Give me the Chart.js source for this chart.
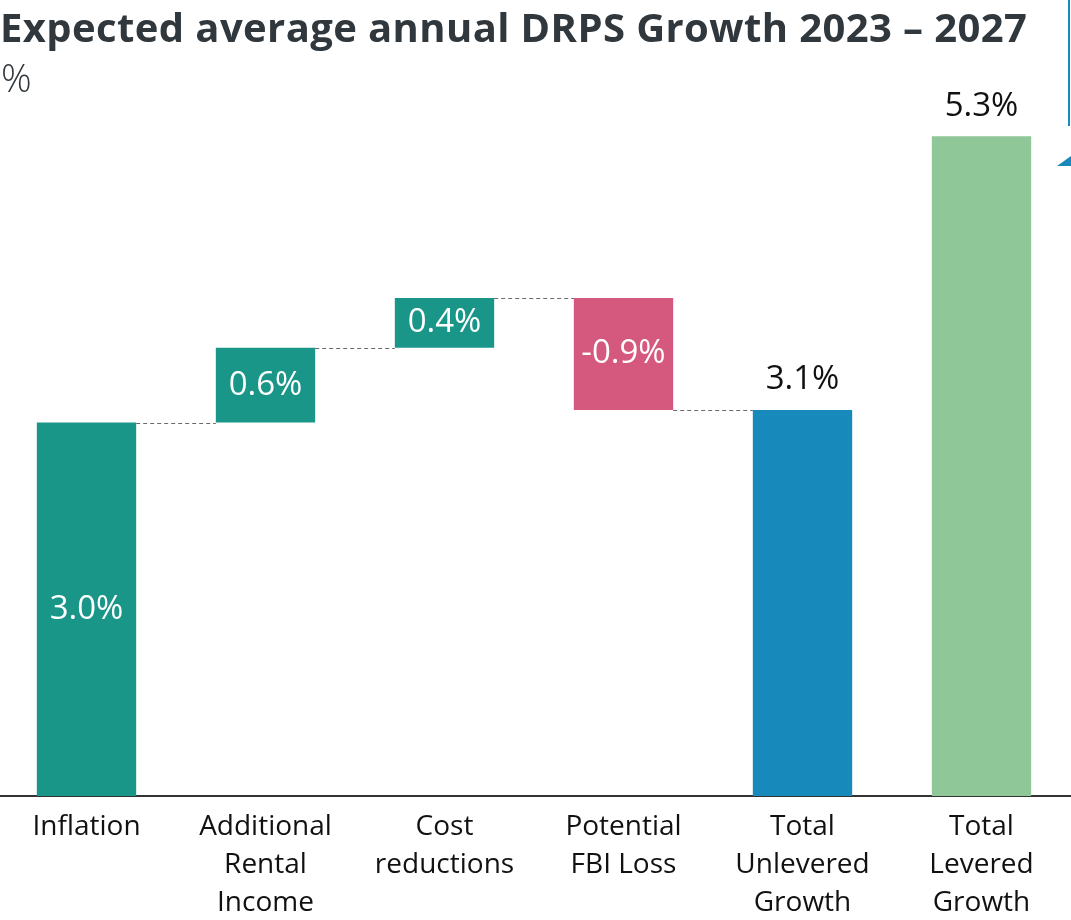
<!DOCTYPE html>
<html>
<head>
<meta charset="utf-8">
<script src="https://cdn.jsdelivr.net/npm/chart.js@4/dist/chart.umd.min.js"></script>
<style>
  html, body { margin: 0; padding: 0; background: #fff; overflow: hidden; }
  body { width: 1071px; height: 920px; position: relative; font-family: "Open Sans", Lato, sans-serif; }
  #title { position: absolute; left: 0; top: -1px; font-size: 40px; font-weight: 700; color: #30383d; white-space: nowrap; letter-spacing: 0.4px; }
  #unit { position: absolute; left: 1px; top: 51px; font-size: 38px; font-weight: 300; color: #30383d; }
  #wrap { position: absolute; left: -3px; top: 0; width: 1074px; height: 920px; }
</style>
</head>
<body>
<div id="wrap"><canvas id="drpsChart"></canvas></div>
<div id="title">Expected average annual DRPS Growth 2023 – 2027</div>
<div id="unit">%</div>
<script>
// data
const categories = [
    ['Inflation'],
    ['Additional', 'Rental', 'Income'],
    ['Cost', 'reductions'],
    ['Potential', 'FBI Loss'],
    ['Total', 'Unlevered', 'Growth'],
    ['Total', 'Levered', 'Growth']
];
const values = [3.0, 0.6, 0.4, -0.9, 3.1, 5.3];
const kinds = ['step', 'step', 'step', 'step', 'total', 'total'];
const valueLabels = ['3.0%', '0.6%', '0.4%', '-0.9%', '3.1%', '5.3%'];
const barColors = ['#1a9688', '#1a9688', '#1a9688', '#d5587e', '#1889bb', '#8fc799'];

// floating bars: steps start at the running total, totals start at 0
let running = 0;
const ranges = values.map((v, i) => {
    if (kinds[i] === 'total') return [0, v];
    const start = running;
    running += v;
    return [start, running];
});

const fontFamily = '"Open Sans", Lato, sans-serif';

const waterfallExtras = {
    id: 'waterfallExtras',
    afterDatasetsDraw(chart) {
        const ctx = chart.ctx;
        const meta = chart.getDatasetMeta(0);
        const yScale = chart.scales.y;
        ctx.save();
        // dashed connectors between steps
        ctx.strokeStyle = '#6b6b6b';
        ctx.lineWidth = 1.2;
        ctx.setLineDash([4, 3]);
        for (let i = 0; i < meta.data.length - 1; i++) {
            if (kinds[i] !== 'step') continue;
            const a = meta.data[i], b = meta.data[i + 1];
            const y = Math.round(yScale.getPixelForValue(ranges[i][1])) + 0.5;
            ctx.beginPath();
            ctx.moveTo(a.x + a.width / 2, y);
            ctx.lineTo(b.x - b.width / 2, y);
            ctx.stroke();
        }
        ctx.setLineDash([]);
        // value labels
        ctx.font = '33px ' + fontFamily;
        ctx.textAlign = 'center';
        ctx.textBaseline = 'middle';
        meta.data.forEach((bar, i) => {
            if (kinds[i] === 'step') {
                ctx.fillStyle = '#ffffff';
                ctx.fillText(valueLabels[i], bar.x, (bar.y + bar.base) / 2);
            } else {
                ctx.fillStyle = '#111111';
                ctx.fillText(valueLabels[i], bar.x, bar.y - 30);
            }
        });
        // cut-off callout at the right edge
        ctx.strokeStyle = '#1889bb';
        ctx.fillStyle = '#1889bb';
        ctx.lineWidth = 2;
        ctx.beginPath();
        ctx.moveTo(1072, 0);
        ctx.lineTo(1072, 126);
        ctx.stroke();
        ctx.beginPath();
        ctx.moveTo(1060, 166);
        ctx.lineTo(1074, 156);
        ctx.lineTo(1074, 166);
        ctx.closePath();
        ctx.fill();
        ctx.restore();
    }
};

const ctx = document.getElementById('drpsChart').getContext('2d');
new Chart(ctx, {
    type: 'bar',
    data: {
        labels: categories,
        datasets: [{
            data: ranges,
            backgroundColor: barColors,
            borderWidth: 0,
            borderSkipped: false,
            barPercentage: 0.555,
            categoryPercentage: 1.0
        }]
    },
    options: {
        responsive: true,
        maintainAspectRatio: false,
        animation: false,
        layout: { padding: { top: 49, left: 0, right: 0, bottom: -14 } },
        plugins: {
            legend: { display: false },
            tooltip: { enabled: false }
        },
        scales: {
            x: {
                grid: { display: false, drawTicks: false },
                border: { display: true, color: '#333333', width: 2 },
                ticks: {
                    autoSkip: false,
                    maxRotation: 0,
                    padding: 12,
                    color: '#111111',
                    font: { family: fontFamily, size: 28, lineHeight: 1.357 }
                }
            },
            y: {
                display: false,
                min: 0,
                max: 6
            }
        }
    },
    plugins: [waterfallExtras]
});
</script>
</body>
</html>
